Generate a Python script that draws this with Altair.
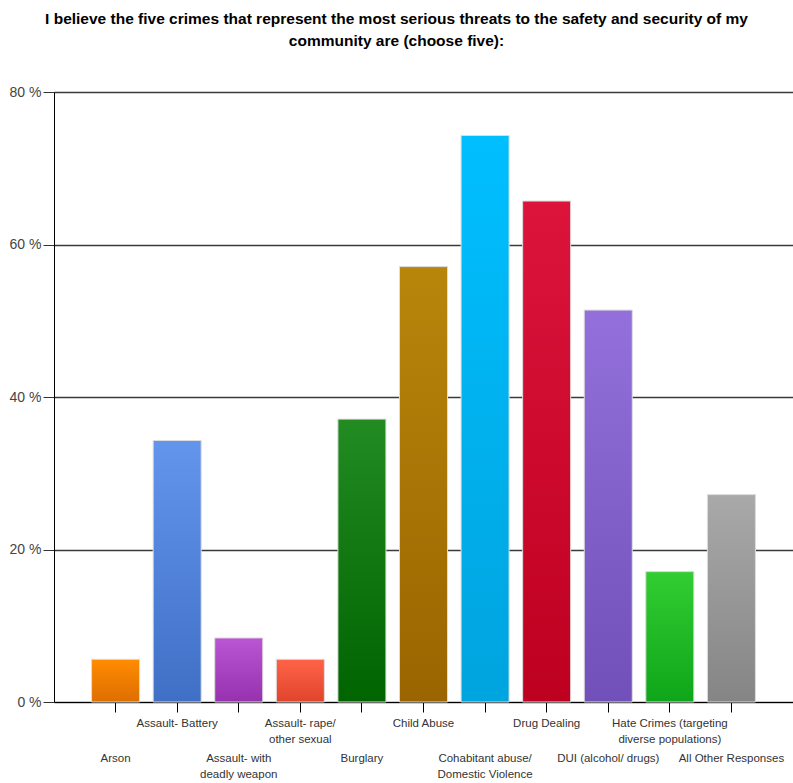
import altair as alt
import pandas as pd

categories = ["Arson", "Assault- Battery", "Assault- with deadly weapon", "Assault- rape/ other sexual",
              "Burglary", "Child Abuse", "Cohabitant abuse/ Domestic Violence", "Drug Dealing",
              "DUI (alcohol/ drugs)", "Hate Crimes (targeting diverse populations)", "All Other Responses"]
labels = ["Arson", "Assault- Battery", "Assault- with\ndeadly weapon", "Assault- rape/\nother sexual",
          "Burglary", "Child Abuse", "Cohabitant abuse/\nDomestic Violence", "Drug Dealing",
          "DUI (alcohol/ drugs)", "Hate Crimes (targeting\ndiverse populations)", "All Other Responses"]
values = [5.6, 34.3, 8.4, 5.6, 37.1, 57.1, 74.3, 65.7, 51.4, 17.1, 27.2]
color_top = ["#FF8C00", "#6495ED", "#BA55D3", "#FF6347", "#228B22", "#B8860B",
             "#00BFFF", "#DC143C", "#9370DB", "#32CD32", "#A9A9A9"]
color_bottom = ["#DE6E00", "#3F70C6", "#9632AE", "#E0442C", "#006400", "#9A6500",
                "#00A4DE", "#BE0020", "#7150B9", "#0FA51A", "#858585"]
y_ticks = [0, 20, 40, 60, 80]
title_lines = ["I believe the five crimes that represent the most serious threats to the safety and security of my",
               "community are (choose five):"]

FONT = "Liberation Sans, Arial, sans-serif"

df = pd.DataFrame({
    "category": categories,
    "label": labels,
    "value": values,
    "idx": list(range(len(categories))),
})
df["row"] = df["idx"] % 2

xenc = alt.X("category:N", sort=categories,
             scale=alt.Scale(domain=categories, paddingInner=0.22, paddingOuter=0.61),
             axis=alt.Axis(title=None, labels=False, ticks=True, tickSize=10, tickColor="#000000",
                           domainColor="#000000", domainWidth=1, grid=False))
yenc = alt.Y("value:Q", scale=alt.Scale(domain=[0, 80], nice=False),
             axis=alt.Axis(title=None, values=y_ticks, labelExpr="datum.value + ' %'",
                           labelFont=FONT, labelFontSize=14, labelColor="#444444", labelPadding=2,
                           tickSize=11, tickColor="#333333", domainColor="#000000", domainWidth=1,
                           grid=True, gridColor="#3a3a3a", gridWidth=1.5))

layers = []
for i, cat in enumerate(categories):
    grad = alt.Gradient(gradient="linear",
                        stops=[alt.GradientStop(color=color_top[i], offset=0),
                               alt.GradientStop(color=color_bottom[i], offset=1)],
                        x1=0, x2=0, y1=0, y2=1)
    layers.append(
        alt.Chart(df).transform_filter(alt.datum.category == cat)
        .mark_bar(fill=grad, stroke="#dddddd", strokeWidth=1)
        .encode(x=xenc, y=yenc)
    )

upper = alt.Chart(df).transform_filter(alt.datum.row == 1).mark_text(
    lineBreak="\n", baseline="top", align="center", font=FONT, fontSize=11.5, color="#333333", lineHeight=16
).encode(x=xenc, y=alt.value(626), text="label:N")
lower = alt.Chart(df).transform_filter(alt.datum.row == 0).mark_text(
    lineBreak="\n", baseline="top", align="center", font=FONT, fontSize=11.5, color="#333333", lineHeight=16
).encode(x=xenc, y=alt.value(661), text="label:N")

chart = alt.layer(*layers, upper, lower).properties(
    width=739, height=610,
    autosize=alt.AutoSizeParams(type="none"),
    padding={"left": 54, "top": 92, "right": 0, "bottom": 81},
    title=alt.TitleParams(text=title_lines, font=FONT, fontSize=15.5, fontWeight="bold", color="#000000",
                          anchor="middle", dx=-27, offset=36, lineHeight=22),
).configure_view(stroke=None).configure(background="white")

chart.save("out.html", embed_options={"renderer": "svg", "actions": False})
